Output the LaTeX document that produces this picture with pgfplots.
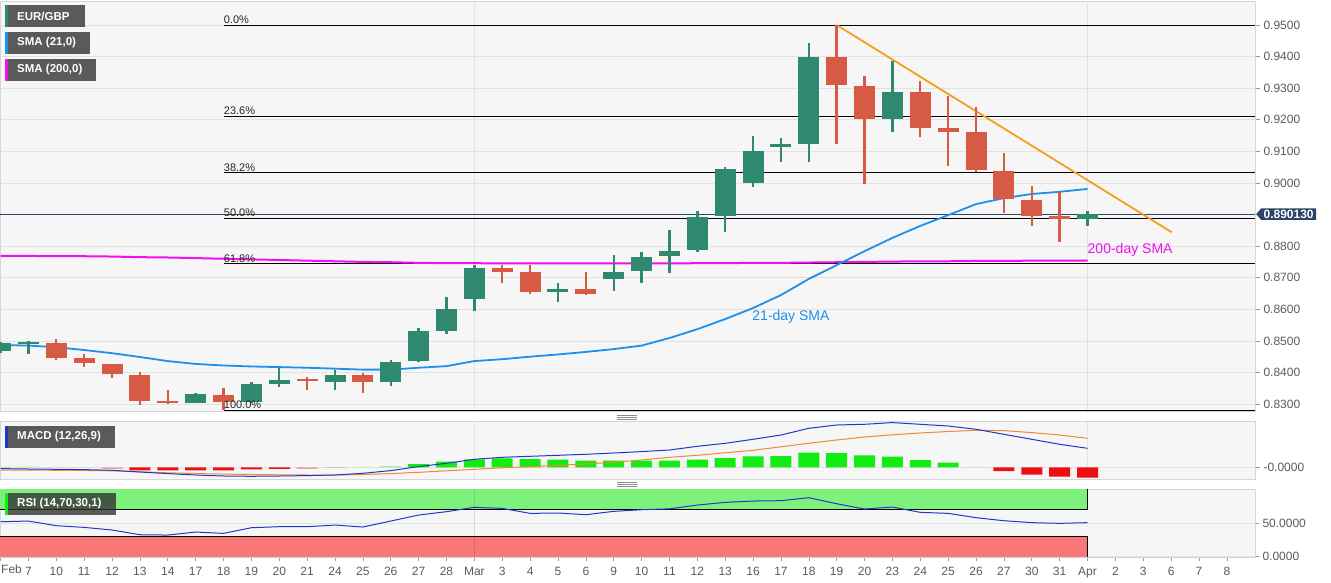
\documentclass[border=0pt]{standalone}
\usepackage{fontspec}
\setmainfont{Liberation Sans}
\usepackage{pgfplots}
\pgfplotsset{compat=1.18}
\usepackage{pgfplotstable}
\usetikzlibrary{shapes.symbols}

\definecolor{bgc}{HTML}{F6F6F6}
\definecolor{bordc}{HTML}{D4D4DC}
\definecolor{gridc}{HTML}{E2E2E2}
\definecolor{labc}{HTML}{5A5A5A}
\definecolor{bull}{HTML}{2F8870}
\definecolor{bear}{HTML}{D65A44}
\definecolor{smablue}{HTML}{1E8FEA}
\definecolor{smamag}{HTML}{F010F0}
\definecolor{trend}{HTML}{F2A01C}
\definecolor{tagc}{HTML}{2D4468}
\definecolor{macdc}{HTML}{2436C8}
\definecolor{sigc}{HTML}{EE8A36}
\definecolor{hgreen}{HTML}{12EC12}
\definecolor{hgreenl}{HTML}{A8EEA8}
\definecolor{hred}{HTML}{EE1010}
\definecolor{hredl}{HTML}{E8A2A2}
\definecolor{rsig}{HTML}{7CF27C}
\definecolor{rsir}{HTML}{F87878}
\definecolor{boxc}{HTML}{333333}

\newcommand\tickfont{\fontsize{12}{14}\selectfont}

% candles: index, open, high, low, close
\pgfplotstableread{
i o h l c
0 0.8467 0.8495 0.8462 0.8492
1 0.8491 0.8499 0.8460 0.8498
7 0.8305 0.8334 0.8302 0.8331
9 0.8307 0.8369 0.8303 0.8363
10 0.8363 0.8413 0.8355 0.8376
12 0.8369 0.8408 0.8344 0.8392
14 0.8369 0.8441 0.8357 0.8434
15 0.8436 0.8540 0.8432 0.8531
16 0.8531 0.8640 0.8521 0.8600
17 0.8632 0.8740 0.8594 0.8730
20 0.8654 0.8682 0.8622 0.8664
22 0.8696 0.8772 0.8658 0.8719
23 0.8722 0.8780 0.8682 0.8764
24 0.8769 0.8851 0.8714 0.8784
25 0.8788 0.8912 0.8782 0.8893
26 0.8895 0.9049 0.8844 0.9043
27 0.8999 0.9149 0.8988 0.9101
28 0.9115 0.9141 0.9065 0.9123
29 0.9123 0.9442 0.9067 0.9400
32 0.9202 0.9387 0.9162 0.9289
39 0.8886 0.8911 0.8864 0.8901
}\bulls
\pgfplotstableread{
i o h l c
2 0.8492 0.8505 0.8439 0.8447
3 0.8447 0.8457 0.8418 0.8429
4 0.8426 0.8428 0.8381 0.8394
5 0.8392 0.8400 0.8297 0.8309
6 0.8309 0.8344 0.8300 0.8302
8 0.8330 0.8350 0.8280 0.8307
11 0.8379 0.8386 0.8344 0.8372
13 0.8392 0.8399 0.8335 0.8369
18 0.8730 0.8740 0.8682 0.8719
19 0.8717 0.8740 0.8650 0.8654
21 0.8664 0.8717 0.8645 0.8647
30 0.9400 0.9500 0.9123 0.9310
31 0.9308 0.9340 0.8997 0.9202
33 0.9289 0.9324 0.9144 0.9173
34 0.9173 0.9276 0.9054 0.9162
35 0.9160 0.9239 0.9034 0.9041
36 0.9039 0.9094 0.8904 0.8948
37 0.8946 0.8990 0.8864 0.8896
38 0.8894 0.8970 0.8812 0.8886
}\bears

% i, sma21, sma200, macd, signal, rsi
\pgfplotstableread{
i s21 s200 macd sig rsi
0 0.8487 0.8769 -1.3 -2.7 51.9
1 0.8485 0.8769 -1.7 -2.8 52.9
2 0.8480 0.8768 -2.0 -3.0 46.0
3 0.8471 0.8768 -2.3 -3.2 43.5
4 0.8461 0.8767 -3.0 -3.5 39.6
5 0.8449 0.8765 -4.7 -4.5 32.6
6 0.8436 0.8764 -6.3 -5.5 32.1
7 0.8427 0.8762 -7.7 -6.2 36.6
8 0.8422 0.8760 -8.7 -6.8 34.6
9 0.8419 0.8758 -9.0 -7.2 43.0
10 0.8417 0.8756 -8.7 -7.5 44.5
11 0.8415 0.8754 -8.3 -7.7 44.5
12 0.8412 0.8752 -7.7 -7.7 47.0
13 0.8409 0.8750 -6.0 -7.2 44.0
14 0.8409 0.8749 -3.3 -6.3 52.9
15 0.8415 0.8747 0.7 -5.0 61.8
16 0.8420 0.8746 4.0 -3.5 66.8
17 0.8436 0.8746 8.0 -2.0 73.2
18 0.8442 0.8745 10.0 -0.5 71.7
19 0.8450 0.8745 11.0 0.7 64.3
20 0.8457 0.8745 12.0 2.0 64.8
21 0.8465 0.8745 13.0 3.3 62.3
22 0.8474 0.8745 14.3 5.0 67.3
23 0.8485 0.8745 15.7 7.3 69.7
24 0.8509 0.8745 17.3 10.0 71.0
25 0.8537 0.8746 21.0 12.0 76.6
26 0.8569 0.8746 24.0 14.5 80.6
27 0.8604 0.8747 28.0 17.0 82.6
28 0.8645 0.8747 32.3 20.5 83.1
29 0.8696 0.8748 39.0 24.0 87.5
30 0.8740 0.8749 42.3 27.3 78.6
31 0.8784 0.8750 43.0 30.3 70.7
32 0.8826 0.8751 44.7 32.5 73.7
33 0.8864 0.8752 43.0 34.3 65.8
34 0.8898 0.8752 41.3 35.8 64.3
35 0.8933 0.8753 38.0 37.0 57.9
36 0.8952 0.8753 33.0 36.7 53.4
37 0.8965 0.8754 28.0 34.7 50.5
38 0.8972 0.8754 23.0 32.3 49.5
39 0.8981 0.8754 19.0 29.0 50.5
}\ind

\pgfplotsset{
  panel/.style={scale only axis, width=1255pt, xmin=-0.02, xmax=45.01,
    axis background/.style={fill=bgc}, axis line style={draw=bordc},
    tick style={draw=labc!60, line width=0.6pt}, tick align=outside, major tick length=5pt,
    ytick pos=right, yticklabel pos=right, xtick pos=bottom,
    grid style={draw=gridc, line width=0.7pt}, ymajorgrids,
    ticklabel style={font=\tickfont, text=labc}},
  wick/.style={draw=none, mark=none, forget plot,
    error bars/.cd, y dir=both, y explicit, error mark=none,
    error bar style={line width=2.4pt, draw=#1, solid}},
  body/.style={draw=none, mark=none, forget plot,
    error bars/.cd, y dir=both, y explicit, error mark=none,
    error bar style={line width=21pt, draw=#1, solid}},
}

\begin{document}
\begin{tikzpicture}[x=1pt, y=1pt]
\coordinate (pmain) at (0,-1);
\coordinate (pmacd) at (0,-421.5);
\coordinate (prsi) at (0,-489.3);

% ---------- price panel ----------
\begin{axis}[panel, at={(pmain)}, anchor=north west, height=410pt,
  ymin=0.8278, ymax=0.9576, xtick=\empty,
  ytick={0.83,0.84,0.85,0.86,0.87,0.88,0.89,0.90,0.91,0.92,0.93,0.94,0.95},
  yticklabels={0.8300,0.8400,0.8500,0.8600,0.8700,0.8800,,0.9000,0.9100,0.9200,0.9300,0.9400,0.9500}]
  \addplot[gridc, line width=0.7pt] coordinates {(17,0.8278) (17,0.9576)};
  \addplot[gridc, line width=0.7pt] coordinates {(39,0.8278) (39,0.9576)};
  % current price
  \addplot[tagc, line width=0.8pt] coordinates {(-0.02,0.89013) (45.01,0.89013)};
  % fibonacci levels
  \foreach \lv in {0.95,0.92116,0.90332,0.8889,0.87448,0.8281}{
    \edef\tmp{\noexpand\addplot[black, line width=0.9pt] coordinates {(8,\lv) (45.01,\lv)};}\tmp
  }
  \addplot[smamag, line width=2pt] table[x=i, y=s200] {\ind};
  \addplot[smablue, line width=1.8pt] table[x=i, y=s21] {\ind};
  \addplot[trend, line width=1.8pt] coordinates {(30,0.9500) (42.02,0.8844)};
  % candles
  \addplot[wick=bull] table[x=i, y expr={(\thisrow{h}+\thisrow{l})/2}, y error expr={(\thisrow{h}-\thisrow{l})/2}] {\bulls};
  \addplot[body=bull] table[x=i, y expr={(\thisrow{o}+\thisrow{c})/2}, y error expr={abs(\thisrow{c}-\thisrow{o})/2}] {\bulls};
  \addplot[wick=bear] table[x=i, y expr={(\thisrow{h}+\thisrow{l})/2}, y error expr={(\thisrow{h}-\thisrow{l})/2}] {\bears};
  \addplot[body=bear] table[x=i, y expr={(\thisrow{o}+\thisrow{c})/2}, y error expr={abs(\thisrow{c}-\thisrow{o})/2}] {\bears};
  % labels
  \begin{scope}[every node/.style={font=\fontsize{11}{12}\selectfont, text=black!85, inner sep=1pt, anchor=south west}]
    \node at (axis cs:7.97,0.9500) {0.0\%};
    \node at (axis cs:7.97,0.92116) {23.6\%};
    \node at (axis cs:7.97,0.90332) {38.2\%};
    \node at (axis cs:7.97,0.8889) {50.0\%};
    \node at (axis cs:7.97,0.87448) {61.8\%};
    \node at (axis cs:7.97,0.8281) {100.0\%};
  \end{scope}
  \node[text=smablue, font=\fontsize{14}{16}\selectfont] at (axis cs:28.36,0.8575) {21-day SMA};
  \node[text=smamag, font=\fontsize{14}{16}\selectfont, anchor=west, inner sep=0pt] at (axis cs:39.0,0.8788) {200-day SMA};
\end{axis}

% ---------- MACD panel ----------
\begin{axis}[panel, at={(pmacd)}, anchor=north west, height=57.5pt,
  ymin=-11.7, ymax=45.8, xtick=\empty, ytick={0}, yticklabels={-0.0000}]
  \addplot[gridc, line width=0.7pt] coordinates {(17,-11.7) (17,45.8)};
  \addplot[gridc, line width=0.7pt] coordinates {(39,-11.7) (39,45.8)};
  \addplot[ybar, bar width=21pt, fill=hgreenl, draw=none] coordinates {(0,0.7) (1,0.7) (2,0.3) (3,0.3) (13,0.5) (14,1.3) (35,0.5)};
  \addplot[ybar, bar width=21pt, fill=hgreen, draw=none] coordinates {(15,3.3) (16,5.7) (17,8) (18,9) (19,8.3) (20,7.7) (21,6.7) (22,6.7) (23,6.7) (24,6.7) (25,7.7) (26,9.3) (27,11) (28,11.3) (29,14.7) (30,14.3) (31,12) (32,10.7) (33,7.3) (34,4.7)};
  \addplot[ybar, bar width=21pt, fill=hredl, draw=none] coordinates {(4,-1.5) (11,-1.5) (12,-0.5)};
  \addplot[ybar, bar width=21pt, fill=hred, draw=none] coordinates {(5,-3) (6,-3) (7,-3) (8,-3) (9,-2) (10,-1.5) (36,-3.7) (37,-7.3) (38,-9.3) (39,-10.3)};
  \addplot[sigc, line width=1pt] table[x=i, y=sig] {\ind};
  \addplot[macdc, line width=1pt] table[x=i, y=macd] {\ind};
\end{axis}

% ---------- RSI panel ----------
\begin{axis}[panel, at={(prsi)}, anchor=north west, height=67.4pt,
  ymin=0, ymax=100, ytick={0,50}, yticklabels={0.0000,50.0000},
  major tick length=4pt, xtick={0,...,44},
  xticklabel style={yshift=-3pt},
  xticklabels={,7,10,11,12,13,14,17,18,19,20,21,24,25,26,27,28,Mar,3,4,5,6,9,10,11,12,13,16,17,18,19,20,23,24,25,26,27,30,31,Apr,2,3,6,7,8}]
  \addplot[fill=rsig, draw=none] coordinates {(-0.02,70) (39,70) (39,100) (-0.02,100)} --cycle;
  \addplot[fill=rsir, draw=none] coordinates {(-0.02,0) (39,0) (39,30) (-0.02,30)} --cycle;
  \addplot[black, opacity=0.12, line width=0.8pt] coordinates {(17,0) (17,100)};
  \addplot[black, line width=0.9pt] coordinates {(-0.02,70) (39,70) (39,100)};
  \addplot[black, line width=0.9pt] coordinates {(-0.02,30) (39,30) (39,0)};
  \addplot[macdc, line width=1pt] table[x=i, y=rsi] {\ind};
\end{axis}

\node[anchor=north west, font=\tickfont, text=labc, inner sep=0pt] at (1,-564.5) {Feb};

% legend boxes
\begin{scope}[every node/.style={anchor=west, text=white, font=\bfseries\fontsize{11.5}{13}\selectfont, inner sep=0pt}]
  \fill[boxc, opacity=0.8] (5,-5) rectangle (85,-27);   \fill[bull] (5,-5) rectangle (8,-27);
  \node at (17,-16) {EUR/GBP};
  \fill[boxc, opacity=0.8] (5,-32) rectangle (90,-54);  \fill[smablue] (5,-32) rectangle (8,-54);
  \node at (17,-43) {SMA (21,0)};
  \fill[boxc, opacity=0.8] (5,-59) rectangle (96,-81);  \fill[smamag] (5,-59) rectangle (8,-81);
  \node at (17,-70) {SMA (200,0)};
  \fill[boxc, opacity=0.8] (5,-426) rectangle (115,-448); \fill[macdc] (5,-426) rectangle (8,-448);
  \node at (17,-437) {MACD (12,26,9)};
  \fill[boxc, opacity=0.8] (5,-493) rectangle (116,-515); \fill[hgreen] (5,-493) rectangle (8,-515);
  \node at (17,-504) {RSI (14,70,30,1)};
\end{scope}

% price tag
\node[signal, signal to=west, signal pointer angle=100, fill=tagc, text=white,
  font=\bfseries\fontsize{12}{13}\selectfont, inner xsep=2.5pt, inner ysep=1.5pt, anchor=west]
  at (1256,-214.1) {0.890130};

% pane separators
\foreach \yy in {-415,-482}{
  \foreach \dd in {0,2,4}{\draw[black!45, line width=0.6pt] (617,\yy-\dd) -- (637,\yy-\dd);}
}

\pgfresetboundingbox
\path (0,0) rectangle (1331,-583);
\end{tikzpicture}
\end{document}
